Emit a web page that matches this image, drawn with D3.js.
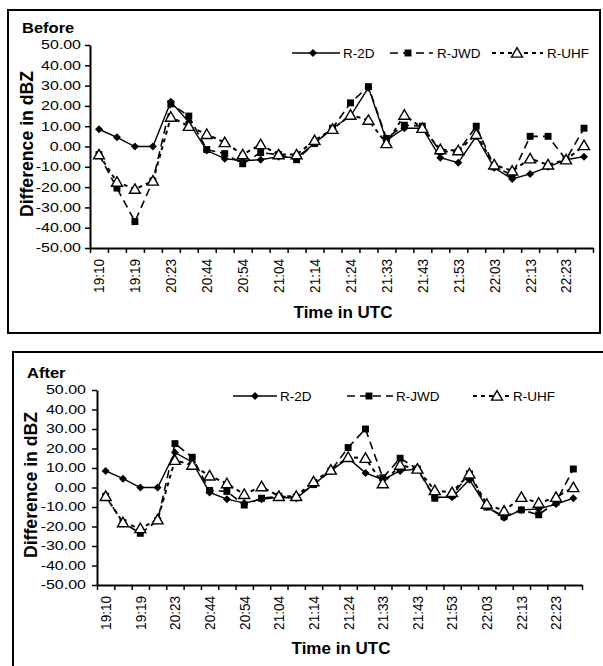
<!DOCTYPE html>
<html>
<head>
<meta charset="utf-8">
<script src="https://cdn.jsdelivr.net/npm/d3@7"></script>
<style>
body { margin: 0; background: #fff; }
svg { display: block; font-family: "Liberation Sans", Arial, sans-serif; }
</style>
</head>
<body>
<div id="main"></div>
<script>

// tick labels (only every other category is labelled in the source)
const timeLabels = ['19:10', '', '19:19', '', '20:23', '', '20:44', '', '20:54', '', '21:04', '', '21:14', '',
    '21:24', '', '21:33', '', '21:43', '', '21:53', '', '22:03', '', '22:13', '', '22:23', ''];

const yTicks = [50, 40, 30, 20, 10, 0, -10, -20, -30, -40, -50];

const seriesNames = ['R-2D', 'R-JWD', 'R-UHF'];

// Before
const before2D = [8.5, 4.5, 0, 0, 22, 12, -2, -6, -7, -6.5, -5, -5.5, 1.5, 9, 15, 29, 3, 9, 9, -5.5, -8, 5, -10.5, -16, -13.5, -10, -6.5, -5];
const beforeJWD = [-4, -20.5, -37, -17, 21, 15, -1.5, -3.5, -8.5, -3, -4, -6.5, 1.5, 9, 21.5, 29.5, 4, 10.5, 10, -2.5, -2.5, 10, -10, -14, 5, 5, -6.5, 9];
const beforeUHF = [-4, -17.5, -21, -17, 14.5, 10, 6, 2, -4, 1, -4, -4, 3, 8.5, 15.5, 13, 1.5, 15.5, 9, -1.5, -2, 6, -9, -12, -6, -9, -6.5, 0.5];

// After
const after2D = [8.5, 4.5, 0, 0, 18, 13, -2.5, -6, -8, -6, -5, -5.5, 1.5, 8.5, 15, 7.5, 4, 8.5, 9.5, -5, -5, 4, -10, -15.5, -11.5, -11, -8.5, -5.5];
const afterJWD = [-4.5, -18, -23.5, -17, 22.5, 15.5, -1.5, -2, -9, -5.5, -4.5, -5, 1.5, 8.5, 20.5, 30, 5, 15, 9.5, -5.5, -4, 7, -10, -15, -11.5, -14, -7.5, 9.5];
const afterUHF = [-4.5, -18, -21, -16.5, 14, 11.5, 6, 2, -3.5, 0.5, -4.5, -4.5, 3, 9, 15.5, 15, 2, 11.5, 9.5, -1.5, -2.5, 7, -8.5, -12, -5, -8, -5, 0];


const w = 603;
const h = 666;

const svg = d3.select('#main').append('svg').attr('width', w).attr('height', h);

// line / marker styles per series
const styles = [
    { dash: null, width: 1.4, symbol: 'diamond' },
    { dash: '8,5', width: 1.6, symbol: 'square' },
    { dash: '4,4', width: 2, symbol: 'triangle' }
];

const marker = (g, kind, x, y) => {
    if (kind == 'diamond') {
        g.append('path').attr('d', d3.symbol(d3.symbolSquare, 32)())
            .attr('transform', `translate(${x},${y}) rotate(45)`).attr('fill', '#000');
    } else if (kind == 'square') {
        g.append('path').attr('d', d3.symbol(d3.symbolSquare, 48)())
            .attr('transform', `translate(${x},${y})`).attr('fill', '#000');
    } else {
        g.append('path').attr('d', d3.symbol(d3.symbolTriangle, 52)())
            .attr('transform', `translate(${x},${y + 1})`)
            .attr('fill', '#fff').attr('stroke', '#000').attr('stroke-width', 1.4);
    }
}

const panels = [
    {
        title: 'Before', data: [before2D, beforeJWD, beforeUHF],
        box: [8, 10, 592, 323], left: 90, right: 593, top: 45, bottom: 248,
        titleX: 22, titleY: 33, yTitle: [33, 144], xTitle: [343, 318], tickPad: 4,
        legendY: 53, legend: [[292, 340, 313, 343], [390, 433, 408, 437], [492, 543, 517, 547]]
    },
    {
        title: 'After', data: [after2D, afterJWD, afterUHF],
        box: [13, 352, 600, 400], left: 97, right: 582, top: 390, bottom: 585,
        titleX: 27, titleY: 378, yTitle: [37, 485], xTitle: [341, 654], tickPad: 6,
        legendY: 396, legend: [[233, 277, 255, 280], [347, 393, 369, 396], [473, 512, 497, 513]]
    }
];

panels.forEach(p => {

    // frame
    svg.append('rect').attr('x', p.box[0]).attr('y', p.box[1]).attr('width', p.box[2]).attr('height', p.box[3])
        .attr('fill', 'none').attr('stroke', '#000').attr('stroke-width', 2);

    svg.append('text').text(p.title)
        .attr('transform', `translate(${p.titleX},${p.titleY}) scale(1,0.85)`)
        .style('font-weight', 'bold').style('font-size', '16.5px');

    const n = timeLabels.length;
    const xBand = d3.scaleBand().domain(d3.range(n)).range([p.left, p.right]);
    const xEdge = d3.scaleLinear().domain([0, n]).range([p.left, p.right]);
    const yScale = d3.scaleLinear().domain([-50, 50]).range([p.bottom, p.top]);
    const cx = i => xBand(i) + xBand.bandwidth() / 2;

    // y axis
    const yAxis = svg.append('g').attr('transform', `translate(${p.left},0)`)
        .call(d3.axisLeft(yScale).tickValues(yTicks).tickSize(5).tickSizeOuter(0).tickPadding(p.tickPad)
            .tickFormat(d => d.toFixed(2)));
    yAxis.select('.domain').attr('stroke-width', 2);
    yAxis.selectAll('line').attr('stroke-width', 1.5);
    yAxis.selectAll('text').attr('transform', 'scale(1,0.76)')
        .style('font-size', '16px').style('font-family', '"Liberation Sans", Arial, sans-serif').attr('fill', '#000');

    // x axis: ticks on category edges
    const xAxis = svg.append('g').attr('transform', `translate(0,${p.bottom})`)
        .call(d3.axisBottom(xEdge).tickValues(d3.range(n + 1)).tickSize(5).tickSizeOuter(0).tickFormat(''));
    xAxis.select('.domain').attr('stroke-width', 2);
    xAxis.selectAll('line').attr('stroke-width', 1.5);

    // x labels, rotated
    const xLab = svg.append('g').attr('transform', `translate(0,${p.bottom})`)
        .call(d3.axisBottom(xBand).tickSize(0).tickFormat(i => timeLabels[i]));
    xLab.select('.domain').remove();
    xLab.selectAll('text')
        .attr('transform', 'scale(1,0.88) rotate(-90)')
        .attr('x', -12.5).attr('y', 0).attr('dy', '0.35em')
        .style('text-anchor', 'end')
        .style('font-size', '15.4px').style('font-family', '"Liberation Sans", Arial, sans-serif').attr('fill', '#000');

    // axis titles
    svg.append('text').text('Difference in dBZ')
        .attr('transform', `translate(${p.yTitle[0]},${p.yTitle[1]}) scale(1,0.93) rotate(-90)`)
        .style('text-anchor', 'middle').style('font-weight', 'bold').style('font-size', '19px');

    svg.append('text').text('Time in UTC')
        .attr('x', p.xTitle[0]).attr('y', p.xTitle[1])
        .style('text-anchor', 'middle').style('font-weight', 'bold').style('font-size', '17px');

    // series
    const line = d3.line().x((d, i) => cx(i)).y(d => yScale(d));

    p.data.forEach((values, k) => {
        const st = styles[k];
        const g = svg.append('g');
        g.append('path').datum(values).attr('d', line)
            .attr('fill', 'none').attr('stroke', '#000').attr('stroke-width', st.width)
            .attr('stroke-dasharray', st.dash);
        values.forEach((v, i) => marker(g, st.symbol, cx(i), yScale(v)));
    });

    // legend
    p.legend.forEach((L, k) => {
        const st = styles[k];
        const g = svg.append('g');
        g.append('line').attr('x1', L[0]).attr('x2', L[1]).attr('y1', p.legendY).attr('y2', p.legendY)
            .attr('stroke', '#000').attr('stroke-width', st.width).attr('stroke-dasharray', st.dash);
        marker(g, st.symbol, L[2], p.legendY);
        g.append('text').text(seriesNames[k]).attr('x', L[3]).attr('y', p.legendY + 4.5)
            .style('font-size', '13.5px');
    });
});

</script>
</body>
</html>
